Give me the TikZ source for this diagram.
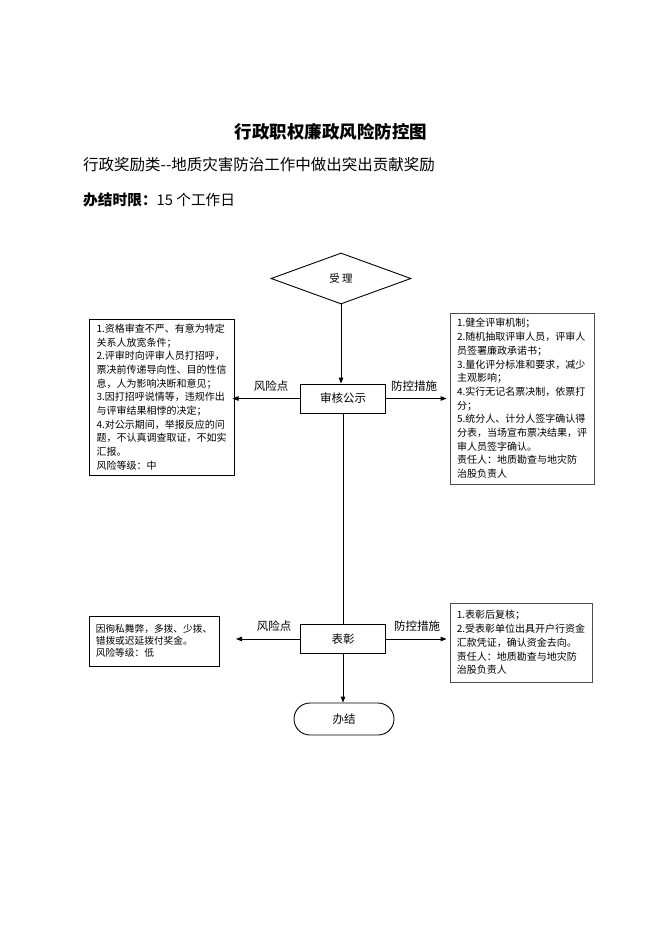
\documentclass[tikz,border=0pt]{standalone}
\usepackage{fontspec}
\setmainfont{Noto Sans CJK SC}
\usetikzlibrary{arrows.meta,shapes.geometric,shapes.misc}
\tikzset{
  conn/.style={line width=0.9pt,-{Triangle[length=6pt,width=4.5pt]}},
  plain/.style={line width=0.9pt},
  stepbox/.style={draw,line width=0.9pt,minimum width=85pt,minimum height=29pt,inner sep=0pt,font=\fontsize{11.5}{13}\selectfont},
  riskbox/.style={draw,line width=1pt,align=left,inner sep=0pt,font=\fontsize{10}{13.7}\selectfont},
  ctrlbox/.style={draw=black!70,line width=0.9pt,align=left,inner sep=0pt,font=\fontsize{10}{13.7}\selectfont},
  lbl/.style={inner sep=0pt,font=\fontsize{11.5}{13}\selectfont}
}
\begin{document}
\begin{tikzpicture}[x=1pt,y=-1pt]
\useasboundingbox[fill=white] (0,0) rectangle (662,936);
% header
\node[inner sep=0pt,font=\fontsize{17.5}{20}\selectfont\bfseries] (title) at (331,132) {行政职权廉政风险防控图};
\node[inner sep=0pt,anchor=west,font=\fontsize{15.5}{18}\selectfont] (sub) at (83,165) {行政奖励类{-}{-}地质灾害防治工作中做出突出贡献奖励};
\node[inner sep=0pt,anchor=west,font=\fontsize{14.7}{18}\selectfont] (limit) at (83,200) {\textbf{办结时限：}15 个工作日};
% flow
\node[draw,shape=diamond,line width=0.9pt,minimum width=140pt,minimum height=51pt,inner sep=0pt,font=\fontsize{10.5}{12}\selectfont] (accept) at (341,278.5) {受 理};
\node[stepbox] (review) at (343,398.5) {审核公示};
\node[stepbox] (award) at (343,639) {表彰};
\node[draw,rounded rectangle,line width=0.9pt,minimum width=100pt,minimum height=32pt,inner sep=0pt,font=\fontsize{11.5}{13}\selectfont] (done) at (344,719) {办结};
% side boxes
\node[riskbox,minimum width=145pt,minimum height=156pt] (risk1) at (161.5,397) {1.资格审查不严、有意为特定\\关系人放宽条件；\\2.评审时向评审人员打招呼，\\票决前传递导向性、目的性信\\息，人为影响决断和意见；\\3.因打招呼说情等，违规作出\\与评审结果相悖的决定；\\4.对公示期间，举报反应的问\\题，不认真调查取证，不如实\\汇报。\\风险等级：中};
\node[ctrlbox,minimum width=144pt,minimum height=171pt] (ctrl1) at (522,398.5) {1.健全评审机制；\\2.随机抽取评审人员，评审人\\员签署廉政承诺书；\\3.量化评分标准和要求，减少\\主观影响；\\4.实行无记名票决制，依票打\\分；\\5.统分人、计分人签字确认得\\分表，当场宣布票决结果，评\\审人员签字确认。\\责任人：地质勘查与地灾防\\治股负责人};
\node[riskbox,minimum width=130pt,minimum height=50pt,font=\fontsize{9.7}{12}\selectfont] (risk2) at (154,641) {因徇私舞弊，多拨、少拨、\\错拨或迟延拨付奖金。\\风险等级：低};
\node[ctrlbox,minimum width=142pt,minimum height=79pt] (ctrl2) at (521,642.5) {1.表彰后复核；\\2.受表彰单位出具开户行资金\\汇款凭证，确认资金去向。\\责任人：地质勘查与地灾防\\治股负责人};
% arrow ends
\coordinate (r2tip) at (236,639);
% connectors
\draw[conn] (accept.south) -- (accept.south |- review.north);
\draw[conn,shorten >=-2pt] (review.west) -- (risk1.east |- review.west);
\draw[conn,shorten >=3pt] (review.east) -- (ctrl1.west |- review.east);
\draw[plain] (review.south) -- (award.north);
\draw[conn] (award.west) -- (r2tip);
\draw[conn,shorten >=3pt] (award.east) -- (ctrl2.west |- award.east);
\draw[conn] (award.south) -- (award.south |- done.north);
% labels
\node[lbl] (rl1) at (271,386) {风险点};
\node[lbl] (cl1) at (414,386) {防控措施};
\node[lbl] (rl2) at (274,626) {风险点};
\node[lbl] (cl2) at (417,626) {防控措施};
\end{tikzpicture}
\end{document}
